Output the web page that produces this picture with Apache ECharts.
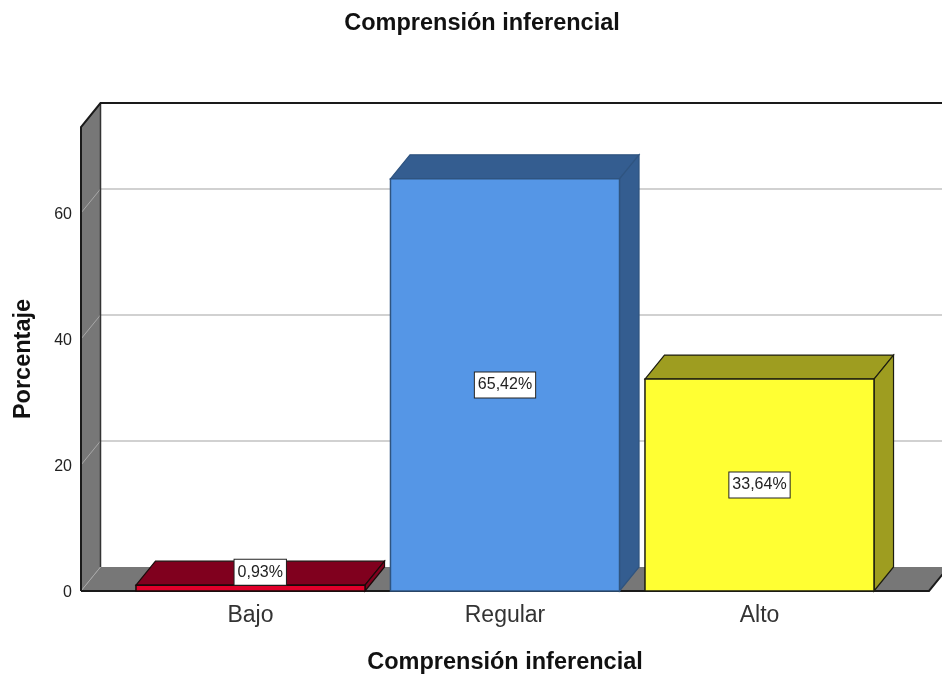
<!DOCTYPE html>
<html>
<head>
<meta charset="utf-8">
<style>html,body{margin:0;padding:0;background:#fff}#chart{width:942px;height:679px}</style>
<script src="https://cdn.jsdelivr.net/npm/echarts@6/dist/echarts.min.js"></script>
</head>
<body>
<div id="chart"></div>
<script>
// Niveles y porcentajes de comprensión inferencial
const categories = ['Bajo', 'Regular', 'Alto'];
const percentages = [0.93, 65.42, 33.64];
const percentLabels = ['0,93%', '65,42%', '33,64%'];
const yTicks = [0, 20, 40, 60];
const yMax = 73.65;

// Colores de cada barra: cara frontal, caras laterales y borde
const frontColors = ['#e0002a', '#5596e6', '#ffff33'];
const shadeColors = ['#80001e', '#345d90', '#9e9d20'];
const edgeColors = ['#1a0a0a', '#2f5480', '#1c1c10'];

// Profundidad de la perspectiva oblicua, en píxeles
const depthX = 19.5;
const depthY = 24;
// Margen del suelo más allá de la primera y la última banda, en bandas
const floorMargin = 0.666;
const font = '"Liberation Sans", Arial, sans-serif';

function poly(points, fill, stroke, lineWidth) {
  return { type: 'polygon', shape: { points }, style: { fill, stroke, lineWidth } };
}

// Paredes, suelo y líneas de cuadrícula de la caja 3D
function renderFrame(params, api) {
  const band = api.size([1, 0])[0];
  const x0 = api.coord([0, 0])[0] - band * floorMargin;
  const x1 = api.coord([categories.length - 1, 0])[0] + band * floorMargin;
  const yBase = api.coord([0, 0])[1];
  const yTop = api.coord([0, yMax])[1];
  const wallGray = '#777777';
  const children = [
    poly([[x0, yBase], [x0 + depthX, yBase - depthY], [x1 + depthX, yBase - depthY], [x1, yBase]], wallGray, null, 0),
    poly([[x0, yBase], [x0, yTop], [x0 + depthX, yTop - depthY], [x0 + depthX, yBase - depthY]], wallGray, null, 0)
  ];
  yTicks.forEach(function (t) {
    const y = api.coord([0, t])[1];
    children.push({ type: 'line', shape: { x1: x0, y1: y, x2: x0 + depthX, y2: y - depthY },
      style: { stroke: '#a8a8a8', lineWidth: 1 } });
    if (t > 0) {
      children.push({ type: 'line', shape: { x1: x0 + depthX, y1: y - depthY, x2: x1 + depthX, y2: y - depthY },
        style: { stroke: '#c2c2c2', lineWidth: 1.5 } });
    }
  });
  const edge = { stroke: '#1a1a1a', lineWidth: 2, fill: 'none' };
  children.push(
    { type: 'line', shape: { x1: x0 + depthX, y1: yTop - depthY, x2: x0 + depthX, y2: yBase - depthY }, style: { stroke: '#333', lineWidth: 1.5 } },
    { type: 'polyline', shape: { points: [[x0, yBase], [x0, yTop], [x0 + depthX, yTop - depthY], [x1 + depthX, yTop - depthY]] }, style: edge },
    { type: 'polyline', shape: { points: [[x0, yBase], [x1, yBase], [x1 + depthX, yBase - depthY]] }, style: edge }
  );
  return { type: 'group', children };
}

// Barra prismática: cara frontal, cara superior, cara lateral y etiqueta de valor
function renderBar(params, api) {
  const i = api.value(0);
  const value = api.value(1);
  const width = api.size([1, 0])[0] * 0.9;
  const cx = api.coord([i, 0])[0];
  const yBase = api.coord([i, 0])[1];
  const yVal = api.coord([i, value])[1];
  const left = cx - width / 2;
  const right = cx + width / 2;
  const stroke = edgeColors[i];
  const frontHeight = yBase - yVal;
  const onTop = frontHeight < 26;
  const labelX = onTop ? cx + depthX / 2 : cx;
  const labelY = onTop ? yVal - depthY / 2 - 1 : (yBase + yVal) / 2;
  return {
    type: 'group',
    children: [
      poly([[left, yVal], [left + depthX, yVal - depthY], [right + depthX, yVal - depthY], [right, yVal]], shadeColors[i], stroke, 1.2),
      poly([[right, yVal], [right + depthX, yVal - depthY], [right + depthX, yBase - depthY], [right, yBase]], shadeColors[i], stroke, 1.2),
      poly([[left, yVal], [right, yVal], [right, yBase], [left, yBase]], frontColors[i], stroke, 1.5),
      {
        type: 'text',
        x: labelX,
        y: labelY,
        style: {
          text: percentLabels[i],
          font: '16px ' + font,
          fill: '#222',
          align: 'center',
          verticalAlign: 'middle',
          backgroundColor: '#fff',
          borderColor: '#222',
          borderWidth: 1,
          padding: [5, 3, 4, 3]
        }
      }
    ]
  };
}

const chart = echarts.init(document.getElementById('chart'), null, { renderer: 'canvas' });
chart.setOption({
  animation: false,
  backgroundColor: '#fff',
  title: {
    text: 'Comprensión inferencial',
    left: 477,
    top: 7,
    textAlign: 'center',
    textStyle: { fontFamily: font, fontSize: 23.5, fontWeight: 'bold', color: '#111' }
  },
  grid: { left: 123.25, width: 763.5, top: 127, height: 464, outerBoundsMode: 'none' },
  xAxis: {
    type: 'category',
    data: categories,
    name: 'Comprensión inferencial',
    nameLocation: 'middle',
    nameGap: 60,
    nameTextStyle: { fontFamily: font, fontSize: 23.5, fontWeight: 'bold', color: '#111' },
    axisLine: { show: false },
    axisTick: { show: false },
    axisLabel: { fontFamily: font, fontSize: 23, color: '#333', margin: 13 }
  },
  yAxis: {
    type: 'value',
    min: 0,
    max: yMax,
    interval: 20,
    offset: 42.25,
    name: 'Porcentaje',
    nameLocation: 'middle',
    nameGap: 45,
    nameTextStyle: { fontFamily: font, fontSize: 23.5, fontWeight: 'bold', color: '#111' },
    axisLine: { show: false },
    axisTick: { show: false },
    splitLine: { show: false },
    axisLabel: { fontFamily: font, fontSize: 16, color: '#222', margin: 9, showMaxLabel: false, verticalAlign: 'top', lineHeight: 4 }
  },
  series: [
    { type: 'custom', renderItem: renderFrame, data: [[0, 0]], silent: true, z: 1 },
    {
      type: 'custom',
      renderItem: renderBar,
      data: categories.map(function (c, i) { return [i, percentages[i]]; }),
      encode: { x: 0, y: 1 },
      z: 2
    }
  ]
});
</script>
</body>
</html>
